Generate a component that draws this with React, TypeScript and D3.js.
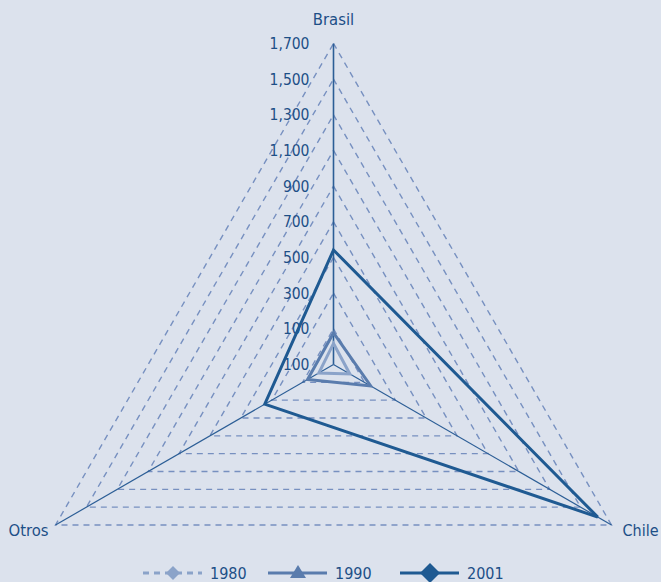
import React from "react";
import * as d3 from "d3";

const axes = ["Brasil", "Chile", "Otros"];
const tickValues = [-100, 100, 300, 500, 700, 900, 1100, 1300, 1500, 1700];
const tickLabels = ["100", "100", "300", "500", "700", "900", "1,100", "1,300", "1,500", "1,700"];
const years = ["1980", "1990", "2001"];
const s1980 = [18, 6, -5];
const s1990 = [77, 141, 68];
const s2001 = [542, 1611, 345];

const W = 661;
const H = 582;
const cx = 333.5;
const cy = 364.5;
const R = 321;
const BG = "#dce2ed";
const TXT = "#1d4f87";
const FONT = "'Liberation Sans Narrow', 'DejaVu Sans Condensed', 'Arial Narrow', sans-serif";

const colors = ["#8ba3c9", "#5a7cad", "#1f5a92"];
const dashes = ["6,5", null, null];

export default function App() {
  const r = d3.scaleLinear().domain([-100, 1700]).range([0, R]);
  const angle = d3.scalePoint<string>().domain(axes).range([0, (2 * Math.PI * 2) / 3]);
  const radial = d3
    .lineRadial<number>()
    .angle((_, i) => angle(axes[i]) as number)
    .radius((d) => r(d))
    .curve(d3.curveLinearClosed);
  const pt = (a: number, rad: number) => [Math.sin(a) * rad, -Math.cos(a) * rad];

  const series = [s1980, s1990, s2001];
  const legendX = [143, 268, 400];

  return (
    <svg
      width={W}
      height={H}
      style={{ position: "absolute", left: 0, top: 0, display: "block", background: BG }}
      fontFamily={FONT}
    >
      <rect width={W} height={H} fill={BG} />
      <g transform={`translate(${cx},${cy})`}>
        {tickValues.slice(1).map((t) => (
          <path
            key={t}
            d={radial(axes.map(() => t)) || ""}
            fill="none"
            stroke="#7790c0"
            strokeWidth={1.4}
            strokeDasharray="6,5"
          />
        ))}
        {axes.map((a) => {
          const [x, y] = pt(angle(a) as number, R);
          return (
            <line
              key={a}
              x1={0}
              y1={0}
              x2={x}
              y2={y}
              stroke="#2c5e96"
              strokeWidth={a === "Brasil" ? 1.6 : 1.2}
            />
          );
        })}
        {tickValues.map((t, i) => (
          <text
            key={i}
            x={-24}
            y={-r(t)}
            dy="0.36em"
            textAnchor="end"
            fontSize={15.5}
            fill={TXT}
          >
            {tickLabels[i]}
          </text>
        ))}
        {series.map((s, i) => (
          <path
            key={years[i]}
            d={radial(s) || ""}
            fill="none"
            stroke={colors[i]}
            strokeWidth={3}
            strokeLinejoin="miter"
          />
        ))}
        <text x={0} y={-R - 19} textAnchor="middle" fontSize={16.5} fill={TXT}>
          {axes[0]}
        </text>
        {(() => {
          const [x, y] = pt(angle("Chile") as number, R);
          return (
            <text x={x + 11} y={y + 11} textAnchor="start" fontSize={16} fill={TXT}>
              {axes[1]}
            </text>
          );
        })()}
        {(() => {
          const [x, y] = pt(angle("Otros") as number, R);
          return (
            <text x={x - 7} y={y + 11} textAnchor="end" fontSize={16.5} fill={TXT}>
              {axes[2]}
            </text>
          );
        })()}
      </g>
      <g>
        {years.map((yr, i) => {
          const x0 = legendX[i];
          const ly = 573;
          const mid = x0 + 30;
          const dm = i === 2 ? 10 : 7;
          return (
            <g key={yr}>
              <line
                x1={x0}
                x2={x0 + 59}
                y1={ly}
                y2={ly}
                stroke={colors[i]}
                strokeWidth={3}
                strokeDasharray={dashes[i] || undefined}
              />
              {i === 1 ? (
                <path d={`M${mid},${ly - 8}L${mid + 8},${ly + 5}L${mid - 8},${ly + 5}Z`} fill={colors[i]} />
              ) : (
                <path
                  d={`M${mid},${ly - dm}L${mid + dm},${ly}L${mid},${ly + dm}L${mid - dm},${ly}Z`}
                  fill={colors[i]}
                />
              )}
              <text x={x0 + 67} y={ly + 6} fontSize={16} fill={TXT}>
                {yr}
              </text>
            </g>
          );
        })}
      </g>
    </svg>
  );
}
